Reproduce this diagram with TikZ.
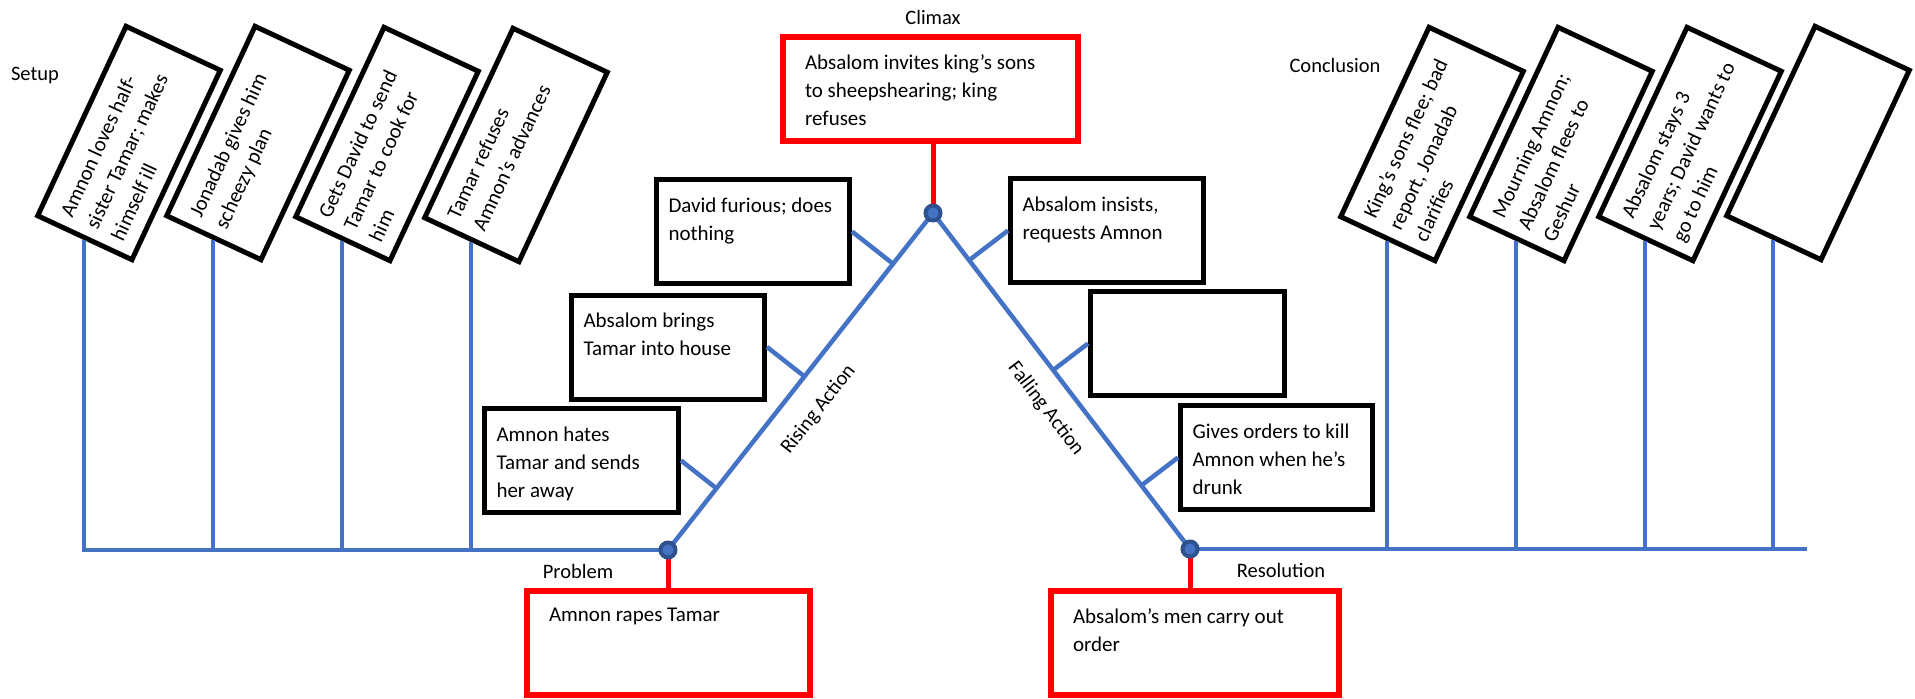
\documentclass[tikz,border=0pt]{standalone}
\usepackage{fontspec}
\setmainfont{Carlito}
\usetikzlibrary{calc}
\definecolor{plotblue}{HTML}{4472C4}
\definecolor{jointblue}{HTML}{2F528F}
\tikzset{x = 1pt, y = -1pt,
         every node/.style = {font = \fontsize{21}{28}\selectfont},
         event/.style = {draw, line width = 5pt, fill = white,
                         inner xsep = 12pt, inner ysep = 18pt},
         keyevent/.style = {event, draw = red, line width = 6pt, inner xsep = 22pt},
         slanted/.style = {event, rotate = 65},
         partname/.style = {font = \fontsize{20.5}{24}\selectfont},
         arc/.style = {draw = plotblue, line width = 4.5pt},
         redstem/.style = {draw = red, line width = 5pt},
         joint/.style = {circle, fill = plotblue, draw = jointblue,
                         line width = 4pt, minimum size = 15pt, inner sep = 0pt}}
\newcommand{\evtext}[2]{\parbox[c][68pt][t]{#1}{\raggedright\mbox{}#2}}

\begin{document}
\begin{tikzpicture}
    \useasboundingbox (0,0) rectangle (1915,699);

    \coordinate (prob) at (668,550);
    \coordinate (apex) at (933,213);
    \coordinate (res)  at (1190,549);
    \coordinate (tail) at (1807,549);

    \node[partname] (setup)      at (35,75)    {Setup};
    \node[partname] (climaxname) at (933,17)   {Climax};
    \node[partname] (conclname)  at (1335,65)  {Conclusion};
    \node[partname] (probname)   at (578,571)  {Problem};
    \node[partname] (resname)    at (1281,570) {Resolution};

    \node[slanted] (s1) at (129,143) {\evtext{185pt}{Amnon loves half-\\sister Tamar; makes\\himself ill}};
    \node[slanted] (s2) at (258,143) {\evtext{185pt}{Jonadab gives him\\scheezy plan}};
    \node[slanted] (s3) at (387,144) {\evtext{185pt}{Gets David to send\\Tamar to cook for\\him}};
    \node[slanted] (s4) at (516,145) {\evtext{185pt}{Tamar refuses\\Amnon’s advances}};

    \node[slanted] (c1) at (1432,144) {\evtext{185pt}{King’s sons flee; bad\\report, Jonadab\\clarifies}};
    \node[slanted] (c2) at (1561,144) {\evtext{185pt}{Mourning Amnon;\\Absalom flees to\\Geshur}};
    \node[slanted] (c3) at (1690,144) {\evtext{185pt}{Absalom stays 3\\years; David wants to\\go to him}};
    \node[slanted] (c4) at (1818,143) {\evtext{185pt}{}};

    \node[event] (r1) at (581.5,460.5) {\evtext{170pt}{Amnon hates\\Tamar and sends\\her away}};
    \node[event] (r2) at (668,347)     {\evtext{169pt}{Absalom brings\\Tamar into house}};
    \node[event] (r3) at (753,231.5)   {\evtext{169pt}{David furious; does\\nothing}};

    \node[event] (f1) at (1107,230.5)  {\evtext{169pt}{Absalom insists,\\requests Amnon}};
    \node[event] (f2) at (1187.5,343.5){\evtext{170pt}{}};
    \node[event] (f3) at (1276.5,457.5){\evtext{168pt}{Gives orders to kill\\Amnon when he’s\\drunk}};

    \node[keyevent] (climax)  at (930.5,89)  {\evtext{251pt}{Absalom invites king’s sons\\to sheepshearing; king\\refuses}};
    \node[keyevent] (probbox) at (668.5,642.5) {\evtext{239pt}{Amnon rapes Tamar}};
    \node[keyevent] (resbox)  at (1195,642.5)  {\evtext{244pt}{Absalom’s men carry out\\order}};

    \draw[arc] (s1.west) |- (prob);
    \draw[arc] (s2.west) -- (s2.west |- prob);
    \draw[arc] (s3.west) -- (s3.west |- prob);
    \draw[arc] (s4.west) -- (s4.west |- prob);

    \draw[arc] (res) -- (tail);
    \draw[arc] (c1.west) -- (c1.west |- res);
    \draw[arc] (c2.west) -- (c2.west |- res);
    \draw[arc] (c3.west) -- (c3.west |- res);
    \draw[arc] (c4.west) -- (c4.west |- res);

    \draw[arc] (prob) -- node[partname, sloped, below = 17pt, pos = .475] (risename) {Rising Action}
               (apex) -- node[partname, sloped, below = 15pt, pos = .53] (fallname) {Falling Action} (res);

    \draw[arc] (r1.east) -- ($(prob)!(r1.east)!(apex)$);
    \draw[arc] (r2.east) -- ($(prob)!(r2.east)!(apex)$);
    \draw[arc] (r3.east) -- ($(prob)!(r3.east)!(apex)$);
    \draw[arc] (f1.west) -- ($(apex)!(f1.west)!(res)$);
    \draw[arc] (f2.west) -- ($(apex)!(f2.west)!(res)$);
    \draw[arc] (f3.west) -- ($(apex)!(f3.west)!(res)$);

    \draw[redstem] (apex |- climax.south) -- (apex);
    \draw[redstem] (prob) -- (prob |- probbox.north);
    \draw[redstem] (res) -- (res |- resbox.north);

    \node[joint] (apexdot) at (apex) {};
    \node[joint] (probdot) at (prob) {};
    \node[joint] (resdot)  at (res)  {};
\end{tikzpicture}
\end{document}
